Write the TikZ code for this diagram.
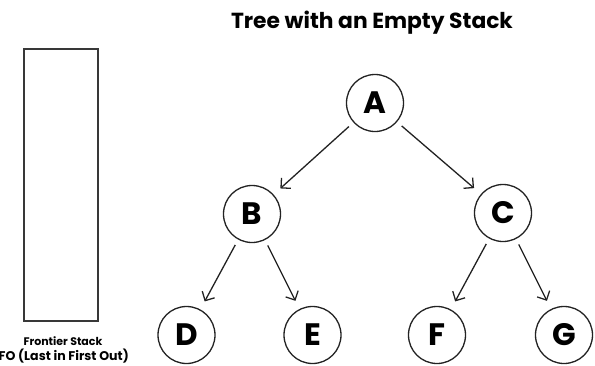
\documentclass[tikz,border=0pt]{standalone}
\usepackage{fontspec}
\setmainfont{Poppins}[BoldFont={Poppins Bold}]
\usetikzlibrary{arrows.meta}
\definecolor{ink}{HTML}{222222}
\tikzset{
  treenode/.style={circle, draw=ink, line width=1.3pt, minimum size=57pt, inner sep=0pt,
    font=\fontsize{31}{31}\selectfont\bfseries},
  edge/.style={draw=ink, line width=1.3pt, -{Straight Barb[length=7pt,width=14pt,line width=1.3pt]},
    shorten <=6pt, shorten >=9pt},
  stackbox/.style={draw=ink!90, line width=2pt},
  caption/.style={font=\fontsize{11}{12}\selectfont\bfseries, inner sep=0pt}
}
\begin{document}
\begin{tikzpicture}[x=1pt,y=-1pt]
  \useasboundingbox (0,0) rectangle (595,365);
  % title
  \node[font=\fontsize{21.8}{24}\selectfont\bfseries, anchor=base] (title) at (372,28) {Tree with an Empty Stack};
  % stack
  \draw[stackbox] (24,49) rectangle (98,321);
  \node[caption, anchor=base] (cap1) at (63,345) {Frontier Stack};
  \node[caption, font=\fontsize{12.6}{13}\selectfont\bfseries, anchor=base east] (cap2) at (129,360) {LIFO (Last in First Out)};
  % tree
  \node[treenode] (A) at (375,103) {A};
  \node[treenode] (B) at (252,214) {B};
  \node[treenode] (C) at (503,213) {C};
  \node[treenode] (D) at (186.5,335) {D};
  \node[treenode] (E) at (312.5,335) {E};
  \node[treenode] (F) at (437,335) {F};
  \node[treenode] (G) at (564,335) {G};
  \draw[edge] (A) -- (B);
  \draw[edge] (A) -- (C);
  \draw[edge] (B) -- (D);
  \draw[edge] (B) -- (E);
  \draw[edge] (C) -- (F);
  \draw[edge] (C) -- (G);
\end{tikzpicture}
\end{document}
